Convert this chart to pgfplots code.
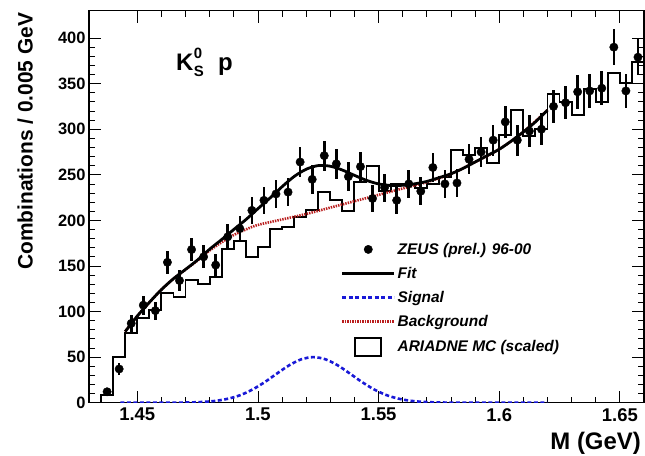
\documentclass[border=0pt]{standalone}
\usepackage{fontspec}
\setmainfont{Liberation Sans}
\usepackage{pgfplots}
\usepackage{pgfplotstable}
\pgfplotsset{compat=1.18}
\definecolor{sigblue}{RGB}{25,25,215}
\definecolor{bkgred}{RGB}{185,30,30}

\pgfplotstableread{
x y e
1.4375 12 3.5
1.4425 37 6.1
1.4475 87 9.3
1.4525 107 10.3
1.4575 101 10.0
1.4625 154 12.4
1.4675 134 11.6
1.4725 168 13.0
1.4775 160 12.6
1.4825 151 12.3
1.4875 182 13.5
1.4925 191 13.8
1.4975 211 14.5
1.5025 222 14.9
1.5075 229 15.1
1.5125 231 15.2
1.5175 264 16.2
1.5225 245 15.7
1.5275 271 16.5
1.5325 262 16.2
1.5375 248 15.7
1.5425 259 16.1
1.5475 224 15.0
1.5525 236 15.4
1.5575 222 14.9
1.5625 240 15.5
1.5675 232 15.2
1.5725 258 16.1
1.5775 240 15.5
1.5825 241 15.5
1.5875 267 16.3
1.5925 275 16.6
1.5975 288 17.0
1.6025 308 17.5
1.6075 288 17.0
1.6125 298 17.3
1.6175 300 17.3
1.6225 325 18.0
1.6275 329 18.1
1.6325 341 18.5
1.6375 342 18.5
1.6425 345 18.6
1.6475 390 19.7
1.6525 342 18.5
1.6575 379 19.5
}\zeusdata

\begin{document}
\begin{tikzpicture}
\begin{axis}[
  scale only axis, width=555bp, height=392bp,
  xmin=1.43, xmax=1.66, ymin=0, ymax=430,
  xtick={1.45,1.5,1.55,1.6,1.65},
  xticklabels={1.45,1.5,1.55,1.6,1.65},
  minor x tick num=4,
  ytick={0,50,...,400},
  minor y tick num=4,
  tick align=inside,
  major tick length=12bp, minor tick length=6bp,
  every tick/.style={black, line width=0.8pt},
  axis line style={line width=1.2pt},
  /pgf/number format/assume math mode=true,
  xticklabel style={font=\bfseries\fontsize{18.5}{18.5}\selectfont, yshift=-2bp},
  yticklabel style={font=\bfseries\fontsize{16.5}{16.5}\selectfont},
  xlabel={M (GeV)},
  xlabel style={font=\bfseries\fontsize{24}{24}\selectfont, at={(axis description cs:1,0)}, anchor=north east, inner sep=0pt, yshift=-29bp, xshift=-3bp},
  ylabel={Combinations / 0.005 GeV},
  ylabel style={font=\bfseries\fontsize{21}{21}\selectfont, at={(axis description cs:-0.115,0.667)}, anchor=center},
  legend style={at={(axis cs:1.5343,177.5)}, anchor=north west, draw=none, fill=none, inner sep=0pt,
    row sep=7.3bp, font=\bfseries\itshape\fontsize{15.5}{15.5}\selectfont, cells={anchor=west}},
  legend cell align=left,
]
\coordinate (O) at (rel axis cs:0,0);
\coordinate (T) at (rel axis cs:1,1);

% ARIADNE MC histogram
\addplot[const plot, black, line width=1.9bp, forget plot] coordinates {
(1.435,0) (1.435,8) (1.440,50) (1.445,76) (1.450,93) (1.455,102) (1.460,120) (1.465,116)
(1.470,135) (1.475,130) (1.480,138) (1.485,169) (1.490,177) (1.495,160) (1.500,171)
(1.505,191) (1.510,193) (1.515,204) (1.520,211) (1.525,231) (1.530,222) (1.535,210)
(1.540,242) (1.545,260) (1.550,232) (1.555,240) (1.560,240) (1.565,236) (1.570,240)
(1.575,248) (1.580,277) (1.585,272) (1.590,279) (1.595,263) (1.600,294) (1.605,321)
(1.610,293) (1.615,300) (1.620,339) (1.625,330) (1.630,316) (1.635,344) (1.640,330)
(1.645,362) (1.650,351) (1.655,374) (1.660,374)
};

% Background
\addplot[bkgred, line width=2.6bp, dash pattern=on 1.4bp off 1.1bp, smooth, forget plot] coordinates {
(1.445,78) (1.450,95) (1.455,110) (1.460,124) (1.465,136) (1.470,146) (1.475,156)
(1.480,167) (1.485,176) (1.490,184) (1.495,190) (1.500,195) (1.510,201) (1.520,207)
(1.530,214) (1.540,221) (1.550,228) (1.560,235) (1.570,242) (1.580,251) (1.590,264)
(1.600,278) (1.610,297) (1.620,321)
};

% Signal
\addplot[sigblue, line width=2.6bp, dash pattern=on 4bp off 2.5bp, smooth, forget plot] coordinates {
(1.443,0) (1.458,0.04) (1.468,0.14) (1.473,0.38) (1.478,0.96) (1.483,2.2) (1.488,4.6)
(1.493,8.6) (1.498,14.8) (1.503,22.9) (1.508,32.2) (1.513,41.1) (1.518,47.6) (1.523,50)
(1.528,47.6) (1.533,41.1) (1.538,32.2) (1.543,22.9) (1.548,14.8) (1.553,8.6) (1.558,4.6)
(1.563,2.2) (1.568,0.96) (1.573,0.38) (1.578,0.14) (1.583,0.04) (1.600,0) (1.620,0)
};

% Fit
\addplot[black, line width=2.8bp, smooth, forget plot] coordinates {
(1.445,78) (1.450,95) (1.455,110) (1.460,124) (1.465,136) (1.470,146.2) (1.475,156.6)
(1.480,168.4) (1.485,179) (1.490,190) (1.495,200.8) (1.500,212.8) (1.505,224.5)
(1.510,236.9) (1.515,248.1) (1.520,256.1) (1.525,260.1) (1.530,259.4) (1.535,255.2)
(1.540,249.4) (1.545,243.9) (1.550,240) (1.555,238.3) (1.560,238.5) (1.565,240.1)
(1.570,242.7) (1.575,246.8) (1.580,251.1) (1.585,257) (1.590,264) (1.595,271)
(1.600,278) (1.605,287) (1.610,297) (1.615,308) (1.620,321)
};

% ZEUS data
\addplot[only marks, mark=*, mark size=4.2bp, black, forget plot,
  error bars/.cd, y dir=both, y explicit, error mark=none,
  error bar style={line width=2.6bp}]
  table[x=x, y=y, y error=e] {\zeusdata};

% Legend
\addlegendimage{legend image code/.code={\path[draw=none,fill=none] (0bp,-8bp) rectangle (52bp,8bp);
  \draw[black, fill=black, mark=*, mark size=4.2bp, only marks] plot coordinates {(26bp,0bp)};}}
\addlegendentry{ZEUS (prel.) 96-00}
\addlegendimage{legend image code/.code={\draw[black, line width=2.8bp] (0bp,0bp) -- (52bp,0bp);}}
\addlegendentry{Fit}
\addlegendimage{legend image code/.code={\draw[sigblue, line width=2.6bp, dash pattern=on 4bp off 2.5bp] (0bp,0bp) -- (52bp,0bp);}}
\addlegendentry{Signal}
\addlegendimage{legend image code/.code={\draw[bkgred, line width=2.6bp, dash pattern=on 1.4bp off 1.1bp] (0bp,0bp) -- (52bp,0bp);}}
\addlegendentry{Background}
\addlegendimage{legend image code/.code={\path[draw=none,fill=none] (0bp,0bp) -- (52bp,0bp);
  \draw[black, line width=1.6bp, fill=white] (13bp,-9bp) rectangle (39bp,9bp);}}
\addlegendentry{ARIADNE MC (scaled)}

\node[anchor=base west, inner sep=0pt, font=\bfseries\fontsize{24}{24}\selectfont]
  at (axis cs:1.4660,364) {K\hspace{0.5bp}\rlap{\raisebox{-6bp}{\fontsize{15}{15}\selectfont S}}\raisebox{12bp}{\fontsize{15}{15}\selectfont 0}\hspace{16bp}p};
\end{axis}
\pgfresetboundingbox
\path[use as bounding box] ([xshift=-89bp,yshift=-53.3bp]O) rectangle ([xshift=1bp,yshift=10.7bp]T);
\end{tikzpicture}
\end{document}
